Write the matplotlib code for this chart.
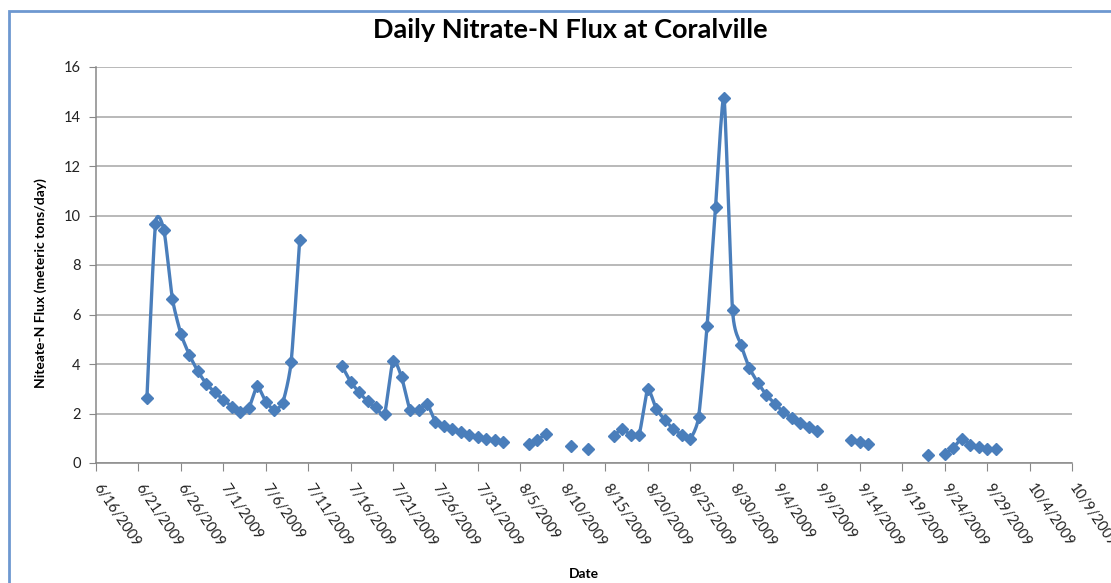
import matplotlib
matplotlib.use('Agg')
import matplotlib.pyplot as plt
import numpy as np
import pandas as pd
from matplotlib.patches import Rectangle

plt.rcParams['font.family'] = ['Lato', 'DejaVu Sans']

# daily flux from 6/22/2009 to 9/30/2009, nan where no value (gaps in line)
start = '2009-06-22'
flux = [
    2.63, 9.65, 9.42, 6.64, 5.22, 4.37, 3.71, 3.20, 2.86,            # 6/22-6/30
    2.56, 2.28, 2.06, 2.21, 3.10, 2.47, 2.16, 2.44, 4.10, 9.00,      # 7/1-7/10
    np.nan, np.nan, np.nan, np.nan,                                  # 7/11-7/14
    3.91, 3.28, 2.86, 2.49, 2.25, 1.98, 4.14, 3.48, 2.16, 2.13,      # 7/15-7/24
    2.40, 1.66, 1.51, 1.38, 1.26, 1.13, 1.05,                        # 7/25-7/31
    0.98, 0.92, 0.83, np.nan, np.nan, 0.77, 0.94, 1.17, np.nan,      # 8/1-8/9
    np.nan, 0.67, np.nan, 0.57, np.nan, np.nan,                      # 8/10-8/15
    1.08, 1.38, 1.12, 1.15, 2.97, 2.20, 1.75, 1.38, 1.15, 0.98,      # 8/16-8/25
    1.85, 5.53, 10.36, 14.74, 6.17, 4.78,                            # 8/26-8/31
    3.83, 3.24, 2.74, 2.40, 2.05, 1.82, 1.62, 1.46, 1.30,            # 9/1-9/9
    np.nan, np.nan, np.nan, 0.94, 0.85, 0.78,                        # 9/10-9/15
    np.nan, np.nan, np.nan, np.nan, np.nan, np.nan, 0.32, np.nan,    # 9/16-9/23
    0.36, 0.61, 0.97, 0.73, 0.65, 0.57, 0.57,                        # 9/24-9/30
]
dates = pd.date_range(start, periods=len(flux), freq='D')

tick_dates = pd.date_range('2009-06-16', '2009-10-09', freq='5D')
tick_labels = [f"{d.month}/{d.day}/{d.year}" for d in tick_dates]
y_ticks = [0, 2, 4, 6, 8, 10, 12, 14, 16]

line_color = '#4A7EBB'


def smooth_segment(x, y, c=0.3, n=12):
    # cardinal spline through the points (a softer take on Excel's smoothed line)
    if len(x) < 3:
        return x, y
    mx = np.gradient(x) * 2 * c
    my = np.gradient(y) * 2 * c
    mx[0], mx[-1] = (x[1] - x[0]) * c, (x[-1] - x[-2]) * c
    my[0], my[-1] = (y[1] - y[0]) * c, (y[-1] - y[-2]) * c
    t = np.linspace(0, 1, n, endpoint=False)
    h00 = 2 * t ** 3 - 3 * t ** 2 + 1
    h10 = t ** 3 - 2 * t ** 2 + t
    h01 = -2 * t ** 3 + 3 * t ** 2
    h11 = t ** 3 - t ** 2
    xs, ys = [], []
    for i in range(len(x) - 1):
        xs.extend(h00 * x[i] + h10 * mx[i] + h01 * x[i + 1] + h11 * mx[i + 1])
        ys.extend(h00 * y[i] + h10 * my[i] + h01 * y[i + 1] + h11 * my[i + 1])
    xs.append(x[-1])
    ys.append(y[-1])
    return np.array(xs), np.array(ys)


fig = plt.figure(figsize=(11.11, 5.83), dpi=100)
ax = fig.add_axes([96 / 1111, 1 - 463 / 583, (1072 - 96) / 1111, (463 - 67) / 583])

# chart area border
fig.patches.append(Rectangle((9 / 1111, -0.1), 1.2, 1 - 11 / 583 + 0.1,
                             transform=fig.transFigure, fill=False,
                             edgecolor='#6E98D0', linewidth=2))

# smoothed line for each run of consecutive days
xnum = np.arange(len(flux), dtype=float)
vals = np.array(flux, dtype=float)
ok = ~np.isnan(vals)
breaks = np.flatnonzero(np.diff(ok.astype(int)) != 0) + 1
for idx in np.split(np.arange(len(flux)), breaks):
    if ok[idx[0]] and len(idx) > 1:
        sx, sy = smooth_segment(xnum[idx], vals[idx])
        sd = pd.Timestamp(start) + pd.to_timedelta(sx, unit='D')
        ax.plot(sd, sy, color=line_color, linewidth=2.4, zorder=3,
                solid_capstyle='round')

ax.plot(dates, flux, linestyle='none', marker='D', markersize=6.5,
        markerfacecolor=line_color, markeredgecolor=line_color, zorder=4)

ax.set_xlim(tick_dates[0], tick_dates[-1])
ax.set_ylim(0, 16)
ax.set_yticks(y_ticks)
ax.set_yticklabels([str(v) for v in y_ticks], fontsize=10.5, color='#222222')
ax.set_xticks(tick_dates)
ax.set_xticklabels(tick_labels, rotation=-56, ha='left', va='center',
                   rotation_mode='anchor', fontsize=10.5, color='#222222')
ax.tick_params(axis='x', length=6, color='#888888', pad=10)
ax.tick_params(axis='y', length=5, color='#888888', pad=6)

ax.grid(axis='y', color='#A6A6A6', linewidth=1.1)
ax.set_axisbelow(True)
for s in ['top', 'right']:
    ax.spines[s].set_visible(False)
for s in ['left', 'bottom']:
    ax.spines[s].set_color('#888888')
    ax.spines[s].set_linewidth(1.1)

fig.text(570 / 1111, 1 - 30 / 583, 'Daily Nitrate-N Flux at Coralville',
         fontsize=19.5, fontweight='bold', ha='center', va='center')
ax.set_xlabel('Date', fontsize=10, fontweight='bold')
ax.xaxis.set_label_coords(0.5, -0.265)
ax.set_ylabel('Niteate-N Flux (meteric tons/day)', fontsize=10, fontweight='bold')
ax.yaxis.set_label_coords(-0.050, 0.455)

fig.savefig('out.png', dpi=100)
